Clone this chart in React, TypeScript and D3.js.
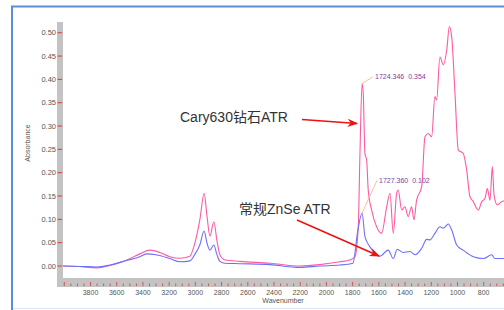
import React, { useEffect, useRef } from "react";
import * as d3 from "d3";

// Cary630 diamond ATR spectrum (pink)
const caryWave = [4010, 3882, 3752, 3653, 3523, 3424, 3347, 3271, 3195, 3118, 3042, 3004, 2966, 2933, 2912, 2889, 2859, 2836, 2813, 2774, 2660, 2431, 2202, 2050, 1897, 1821, 1782, 1757, 1744, 1728, 1719, 1706, 1693, 1681, 1655, 1617, 1579, 1540, 1515, 1490, 1464, 1452, 1426, 1401, 1376, 1350, 1332, 1312, 1273, 1248, 1223, 1197, 1172, 1159, 1134, 1108, 1082, 1062, 1044, 1019, 994, 956, 930, 905, 879, 841, 815, 790, 772, 752, 734, 721, 696, 663, 640];
const caryAbs = [0.0, -0.001, -0.004, 0.001, 0.013, 0.026, 0.034, 0.029, 0.02, 0.0165, 0.021, 0.049, 0.099, 0.156, 0.109, 0.064, 0.095, 0.056, 0.024, 0.013, 0.01, 0.006, 0.0, 0.003, 0.009, 0.013, 0.02, 0.084, 0.242, 0.391, 0.37, 0.241, 0.227, 0.163, 0.12, 0.084, 0.07, 0.127, 0.156, 0.07, 0.156, 0.163, 0.12, 0.127, 0.106, 0.127, 0.099, 0.141, 0.17, 0.277, 0.284, 0.277, 0.363, 0.356, 0.448, 0.431, 0.463, 0.513, 0.491, 0.37, 0.249, 0.241, 0.206, 0.149, 0.138, 0.12, 0.138, 0.145, 0.166, 0.141, 0.213, 0.152, 0.131, 0.138, 0.14];

// conventional ZnSe ATR spectrum (blue)
const znseWave = [4010, 3882, 3752, 3653, 3523, 3424, 3373, 3300, 3195, 3118, 3042, 3004, 2966, 2933, 2912, 2889, 2859, 2836, 2813, 2774, 2660, 2431, 2202, 2050, 1897, 1798, 1760, 1728, 1706, 1668, 1617, 1592, 1528, 1490, 1459, 1414, 1363, 1324, 1273, 1235, 1210, 1172, 1134, 1108, 1070, 1044, 1006, 956, 879, 803, 739, 714, 640];
const znseAbs = [0.0, -0.001, -0.002, 0.002, 0.012, 0.02, 0.026, 0.024, 0.016, 0.009, 0.011, 0.025, 0.045, 0.075, 0.05, 0.034, 0.045, 0.025, 0.01, 0.006, 0.005, 0.003, -0.003, 0.0, 0.002, 0.006, 0.077, 0.113, 0.063, 0.041, 0.024, 0.021, 0.034, 0.016, 0.036, 0.029, 0.031, 0.024, 0.038, 0.057, 0.056, 0.07, 0.084, 0.081, 0.09, 0.077, 0.045, 0.034, 0.02, 0.016, 0.024, 0.016, 0.016];

const yTicks = [0.0, 0.05, 0.1, 0.15, 0.2, 0.25, 0.3, 0.35, 0.4, 0.45, 0.5];
const xTicks = [3800, 3600, 3400, 3200, 3000, 2800, 2600, 2400, 2200, 2000, 1800, 1600, 1400, 1200, 1000, 800];

const peakLabels = ["1724.346  0.354", "1727.360  0.102"];
const seriesNames = ["Cary630钻石ATR", "常规ZnSe ATR"];

const font = "'Liberation Sans', Arial, 'Noto Sans CJK SC', sans-serif";

const drawChart = (el: SVGSVGElement) => {
  const width = 504;
  const height = 310;
  const left = 63;
  const right = 504;
  const top = 22;
  const bottom = 278;

  const svg = d3.select(el);
  svg.selectAll("*").remove();

  const x = d3.scaleLinear().domain([4010, 645]).range([left, right]);
  const y = d3.scaleLinear().domain([-0.0257, 0.523]).range([bottom, top]);

  // frame
  svg.append("rect").attr("width", width).attr("height", height).attr("fill", "#fff");
  svg.append("line").attr("x1", 11).attr("x2", width).attr("y1", 6.5).attr("y2", 6.5)
    .attr("stroke", "#5b8ed8").attr("stroke-width", 2);
  svg.append("line").attr("x1", 12).attr("x2", 12).attr("y1", 6).attr("y2", height)
    .attr("stroke", "#5b8ed8").attr("stroke-width", 2);
  svg.append("line").attr("x1", 13).attr("x2", width).attr("y1", 308.5).attr("y2", 308.5)
    .attr("stroke", "#dde6f3").attr("stroke-width", 1);

  // gray axis bars
  svg.append("rect").attr("x", 57).attr("y", top).attr("width", 6).attr("height", 287 - top).attr("fill", "#c3c3c3");
  svg.append("rect").attr("x", 57).attr("y", bottom).attr("width", width - 57).attr("height", 9).attr("fill", "#c3c3c3");

  // y ticks
  const yg = svg.append("g");
  yTicks.forEach((t) => {
    yg.append("line").attr("x1", 57.5).attr("x2", 62).attr("y1", y(t)).attr("y2", y(t))
      .attr("stroke", "#f03030").attr("stroke-width", 1);
    yg.append("text").attr("x", 56).attr("y", y(t)).attr("dy", "0.35em")
      .attr("text-anchor", "end").attr("font-size", 7.5).attr("fill", "#555")
      .attr("font-family", font).text(t.toFixed(2));
  });

  // x ticks, minor every 50
  const xg = svg.append("g");
  d3.range(4000, 640, -50).forEach((t) => {
    const major = t % 200 === 0;
    xg.append("line").attr("x1", x(t)).attr("x2", x(t))
      .attr("y1", major ? 282 : 283.5).attr("y2", 286)
      .attr("stroke", "#f03030").attr("stroke-width", 0.8);
  });
  xTicks.forEach((t) => {
    xg.append("text").attr("x", x(t)).attr("y", 294.5)
      .attr("text-anchor", "middle").attr("font-size", 7).attr("fill", "#555")
      .attr("font-family", font).text(t);
  });

  svg.append("text").attr("x", 283).attr("y", 303).attr("text-anchor", "middle")
    .attr("font-size", 7).attr("fill", "#555").attr("font-family", font).text("Wavenumber");
  svg.append("text").attr("transform", "translate(30,143) rotate(-90)").attr("text-anchor", "middle")
    .attr("font-size", 7).attr("fill", "#555").attr("font-family", font).text("Absorbance");

  // spectra
  svg.append("clipPath").attr("id", "plot").append("rect")
    .attr("x", left).attr("y", top).attr("width", right - left).attr("height", bottom - top);

  const line = d3.line<[number, number]>().x((d) => x(d[0])).y((d) => y(d[1]))
    .curve(d3.curveMonotoneX);
  const cary = caryWave.map((w, i) => [w, caryAbs[i]] as [number, number]);
  const znse = znseWave.map((w, i) => [w, znseAbs[i]] as [number, number]);

  svg.append("path").datum(cary).attr("d", line).attr("clip-path", "url(#plot)")
    .attr("fill", "none").attr("stroke", "#ff5aa0").attr("stroke-width", 1.1);
  svg.append("path").datum(znse).attr("d", line).attr("clip-path", "url(#plot)")
    .attr("fill", "none").attr("stroke", "#6e6eff").attr("stroke-width", 1.1);

  // peak annotations
  const peaks: [number, number, string, number, number][] = [
    [1728, 0.391, peakLabels[0], 11, -7],
    [1728, 0.113, peakLabels[1], 15, -33],
  ];
  peaks.forEach(([w, v, label, dx, dy]) => {
    const px = x(w);
    const py = y(v);
    svg.append("line").attr("x1", px).attr("y1", py).attr("x2", px + dx).attr("y2", py + dy)
      .attr("stroke", "#f6b080").attr("stroke-width", 0.8);
    svg.append("text").attr("x", px + dx + 2).attr("y", py + dy).attr("dy", "0.35em")
      .style("white-space", "pre")
      .attr("font-size", 7).attr("fill", "#7a3f9a").attr("font-family", font).text(label);
  });

  // series callouts
  const defs = svg.append("defs");
  defs.append("marker").attr("id", "arrow").attr("viewBox", "0 0 10 10").attr("refX", 9).attr("refY", 5)
    .attr("markerWidth", 7).attr("markerHeight", 7).attr("orient", "auto")
    .append("path").attr("d", "M0,1 L10,5 L0,9 L3,5 Z").attr("fill", "#f01010");

  svg.append("text").attr("x", 180).attr("y", 122).attr("font-size", 14).attr("fill", "#333")
    .attr("font-family", font).text(seriesNames[0]);
  svg.append("line").attr("x1", 302).attr("y1", 119.5).attr("x2", 357).attr("y2", 123.5)
    .attr("stroke", "#f01010").attr("stroke-width", 1.5).attr("marker-end", "url(#arrow)");

  svg.append("text").attr("x", 239).attr("y", 214).attr("font-size", 14).attr("fill", "#333")
    .attr("font-family", font).text(seriesNames[1]);
  svg.append("line").attr("x1", 297).attr("y1", 220).attr("x2", 379).attr("y2", 256)
    .attr("stroke", "#f01010").attr("stroke-width", 1.5).attr("marker-end", "url(#arrow)");
};

export default function App() {
  const ref = useRef<SVGSVGElement>(null);
  useEffect(() => {
    if (ref.current) drawChart(ref.current);
  }, []);
  return (
    <svg ref={ref} width={504} height={310}
      style={{ position: "absolute", left: 0, top: 0, display: "block" }} />
  );
}
